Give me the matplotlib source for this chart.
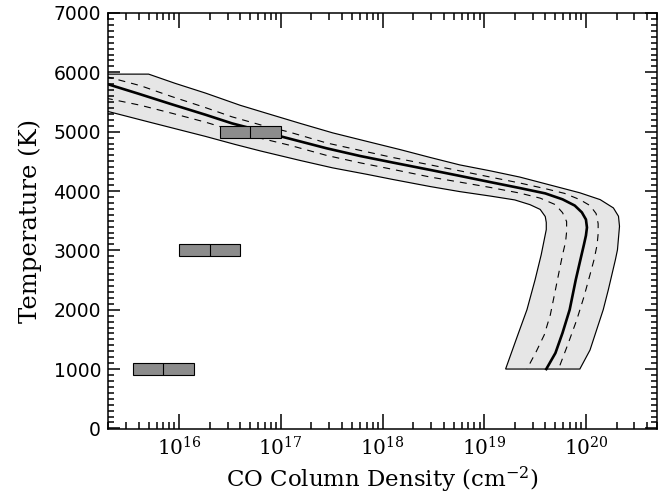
import numpy as np
import matplotlib
matplotlib.use("Agg")
import matplotlib.pyplot as plt
from matplotlib.ticker import MultipleLocator, LogLocator, NullFormatter

# --- data: log10(N_CO) and temperature (K) ---
center_logN = [15.28, 15.60, 15.93, 16.26, 16.52, 16.80, 16.99, 17.45, 17.78, 18.10,
               18.47, 18.76, 19.06, 19.35, 19.60, 19.77, 19.89, 19.96, 20.00, 20.01,
               20.00, 19.98, 19.95, 19.90, 19.84, 19.77, 19.70, 19.61]
center_T = [5810, 5640, 5460, 5285, 5140, 5015, 4925, 4720, 4590, 4480,
            4355, 4255, 4150, 4050, 3960, 3860, 3755, 3640, 3520, 3385,
            3250, 3095, 2875, 2505, 2000, 1610, 1270, 1000]

dash_hi_logN = [15.28, 15.62, 15.93, 16.26, 16.52, 16.80, 17.09, 17.45, 17.78, 18.10,
                18.47, 18.76, 19.06, 19.35, 19.60, 19.79, 19.94, 20.04, 20.10, 20.12,
                20.12, 20.11, 20.08, 20.04, 19.98, 19.91, 19.82, 19.73]
dash_hi_T = [5930, 5775, 5590, 5405, 5250, 5115, 4990, 4810, 4685, 4565,
             4440, 4340, 4235, 4135, 4040, 3960, 3855, 3755, 3620, 3450,
             3280, 3095, 2845, 2590, 2215, 1830, 1405, 1000]

dash_lo_logN = [15.28, 15.62, 15.93, 16.26, 16.52, 16.80, 17.09, 17.45, 17.78, 18.10,
                18.47, 18.76, 19.06, 19.35, 19.55, 19.70, 19.77, 19.81, 19.81, 19.80,
                19.77, 19.74, 19.70, 19.65, 19.59, 19.51, 19.42]
dash_lo_T = [5565, 5445, 5310, 5160, 5025, 4890, 4770, 4600, 4475, 4365,
             4235, 4150, 4060, 3965, 3880, 3770, 3635, 3485, 3315, 3145,
             2925, 2675, 2335, 1915, 1575, 1290, 1000]

band_hi_logN = [15.22, 15.70, 15.96, 16.26, 16.60, 16.86, 17.19, 17.51, 17.85, 18.18,
                18.47, 18.76, 19.06, 19.35, 19.74, 19.94, 20.14, 20.27, 20.32, 20.33,
                20.31, 20.29, 20.22, 20.17, 20.04, 19.94]
band_hi_T = [5970, 5970, 5815, 5650, 5445, 5310, 5140, 4980, 4835, 4695,
             4565, 4440, 4340, 4235, 4060, 3970, 3855, 3715, 3575, 3405,
             3010, 2845, 2335, 2000, 1320, 1000]

band_lo_logN = [15.22, 15.28, 15.71, 16.26, 16.55, 16.80, 17.19, 17.51, 17.85, 18.10,
                18.47, 18.76, 19.06, 19.30, 19.45, 19.55, 19.60, 19.61, 19.61, 19.60,
                19.56, 19.50, 19.42, 19.33, 19.21]
band_lo_T = [5380, 5350, 5160, 4920, 4785, 4675, 4515, 4390, 4280, 4195,
             4075, 3990, 3915, 3850, 3770, 3690, 3570, 3470, 3350, 3265,
             2925, 2505, 2000, 1575, 1000]

# measured points (boxes): column density range and temperature
box_T = [1000, 3000, 5000]
box_N_lo = [3.5e15, 1.0e16, 2.5e16]
box_N_mid = [7.0e15, 2.0e16, 5.0e16]
box_N_hi = [1.4e16, 4.0e16, 1.0e17]
box_dT = 100

x_ticks = [1e16, 1e17, 1e18, 1e19, 1e20]
x_tick_labels = [r'$10^{16}$', r'$10^{17}$', r'$10^{18}$', r'$10^{19}$', r'$10^{20}$']

plt.rcParams['mathtext.fontset'] = 'dejavuserif'

fig = plt.figure(figsize=(6.64, 4.98), dpi=100)
ax = fig.add_axes([0.1627, 0.1386, 0.8268, 0.8353])
ax.set_xscale('log')

to_N = lambda v: 10 ** np.asarray(v)

# shaded band
poly_x = np.concatenate([to_N(band_hi_logN), to_N(band_lo_logN)[::-1]])
poly_y = np.concatenate([band_hi_T, band_lo_T[::-1]])
ax.fill(poly_x, poly_y, facecolor='#e6e6e6', edgecolor='black', linewidth=0.85, zorder=1)

dash = (0, (6.3, 5.4))
ax.plot(to_N(dash_hi_logN), dash_hi_T, color='black', linewidth=0.8, linestyle=dash, zorder=2)
ax.plot(to_N(dash_lo_logN), dash_lo_T, color='black', linewidth=0.8, linestyle=dash, zorder=2)
ax.plot(to_N(center_logN), center_T, color='black', linewidth=1.9, zorder=3)

# boxes
for T, lo, mid, hi in zip(box_T, box_N_lo, box_N_mid, box_N_hi):
    ax.barh(T, hi - lo, left=lo, height=2 * box_dT, color='#8c8c8c',
            edgecolor='black', linewidth=0.8, zorder=4)
    ax.vlines(mid, T - box_dT, T + box_dT, color='black', linewidth=0.8, zorder=5)

ax.set_xlim(2e15, 5e20)
ax.set_ylim(-10, 7000)

ax.set_xticks(x_ticks)
ax.set_xticklabels(x_tick_labels, fontsize=14.5)
ax.xaxis.set_minor_locator(LogLocator(base=10, subs=np.arange(2, 10)))
ax.xaxis.set_minor_formatter(NullFormatter())

ax.yaxis.set_major_locator(MultipleLocator(1000))
ax.yaxis.set_minor_locator(MultipleLocator(100))
for lab in ax.get_yticklabels():
    lab.set_fontfamily('DejaVu Sans')
    lab.set_fontsize(13.5)

ax.tick_params(which='both', direction='in', top=True, right=True, width=1.1)
ax.tick_params(axis='x', which='major', length=10.5, pad=5)
ax.tick_params(axis='x', which='minor', length=5)
ax.tick_params(axis='y', which='major', length=8.5, pad=5)
ax.tick_params(axis='y', which='minor', length=4.3)
for sp in ax.spines.values():
    sp.set_linewidth(1.1)

ax.set_xlabel(r'CO Column Density (cm$^{-2}$)', family='DejaVu Serif', fontsize=16.5, labelpad=4)
ax.set_ylabel('Temperature (K)', family='DejaVu Serif', fontsize=17.5, labelpad=8)

fig.savefig('out.png', dpi=100, facecolor='white')
